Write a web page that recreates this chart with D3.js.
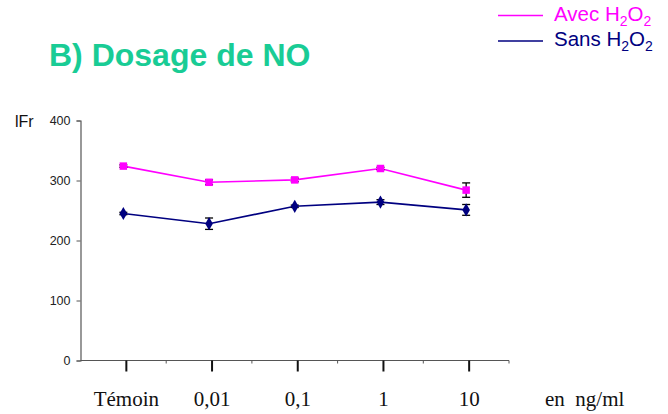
<!DOCTYPE html>
<html><head><meta charset="utf-8">
<script src="https://cdn.jsdelivr.net/npm/d3@7"></script>
<style>body{margin:0;background:#fff}</style>
</head><body>
<script>
const categories = ["Témoin", "0,01", "0,1", "1", "10"];
const avecValues = [324, 297, 301, 320, 284];
const avecErrors = [2, 4, 3, 2, 12];
const sansValues = [245, 228, 257, 264, 251];
const sansErrors = [2, 9.5, 2, 4, 9];
const yTicks = [0, 100, 200, 300, 400];

const W = 668, H = 414;
const svg = d3.select("body").append("svg").attr("width", W).attr("height", H);

const x = d3.scaleBand().domain(categories).range([80.5, 509]);
const y = d3.scaleLinear().domain([0, 400]).range([360.5, 120.5]);

// Title
svg.append("text").attr("x", 49).attr("y", 66)
  .attr("font-family", "Liberation Sans, Arial, sans-serif").attr("font-weight", "bold")
  .attr("font-size", 32).attr("fill", "#19CC95").text("B) Dosage de NO");

// Y axis
const yAxis = d3.axisLeft(y).tickValues(yTicks).tickSize(4).tickPadding(6);
const gy = svg.append("g").attr("transform", "translate(80.5,0)").call(yAxis);
gy.select(".domain").attr("stroke", "#555").attr("stroke-width", 1.2);
gy.selectAll(".tick line").attr("stroke", "#555");
gy.selectAll("text").attr("font-family", "Liberation Sans, Arial, sans-serif").attr("font-size", 12.5).attr("fill", "#222");

svg.append("text").attr("x", 15).attr("y", 127)
  .attr("font-family", "Liberation Sans, Arial, sans-serif").attr("font-size", 16).attr("fill", "#111").text("lFr");

// X axis (minor ticks at boundaries)
const xLine = svg.append("g").attr("transform", `translate(0,${y(0)})`);
xLine.append("line").attr("x1", 80.5).attr("x2", x.range()[1]).attr("stroke", "#555").attr("stroke-width", 1.2);
const bounds = categories.map(c => x(c) + x.bandwidth());
xLine.selectAll(".minor").data(bounds).join("line")
  .attr("x1", d => d).attr("x2", d => d).attr("y1", 0).attr("y2", 3).attr("stroke", "#555");
// Major ticks at category centers
xLine.selectAll(".major").data(categories).join("line")
  .attr("x1", d => x(d) + x.bandwidth() / 2 + 3).attr("x2", d => x(d) + x.bandwidth() / 2 + 3)
  .attr("y1", 0).attr("y2", 11).attr("stroke", "#111").attr("stroke-width", 2);
// Category labels
svg.selectAll(".clab").data(categories).join("text")
  .attr("x", d => x(d) + x.bandwidth() / 2 + 3).attr("y", 406)
  .attr("text-anchor", "middle")
  .attr("font-family", "Liberation Serif, Times New Roman, serif").attr("font-size", 21).attr("fill", "#111")
  .text(d => d);
svg.append("text").attr("x", 545).attr("y", 406)
  .attr("font-family", "Liberation Serif, Times New Roman, serif").attr("font-size", 21).attr("fill", "#111")
  .attr("xml:space", "preserve").text("en  ng/ml");

const cx = d => x(d) + x.bandwidth() / 2;

function series(values, errors, color, shape) {
  const data = categories.map((c, i) => ({c, v: values[i], e: errors[i]}));
  const line = d3.line().x(d => cx(d.c)).y(d => y(d.v));
  svg.append("path").datum(data).attr("d", line).attr("fill", "none").attr("stroke", color).attr("stroke-width", 1.6);
  const eg = svg.append("g").attr("stroke", "#000").attr("stroke-width", 1.3);
  data.forEach(d => {
    eg.append("line").attr("x1", cx(d.c)).attr("x2", cx(d.c)).attr("y1", y(d.v + d.e)).attr("y2", y(d.v - d.e));
    [d.v + d.e, d.v - d.e].forEach(v => eg.append("line").attr("x1", cx(d.c) - 4).attr("x2", cx(d.c) + 4).attr("y1", y(v)).attr("y2", y(v)));
  });
  svg.append("g").selectAll("path").data(data).join("path")
    .attr("transform", d => `translate(${cx(d.c)},${y(d.v)})`)
    .attr("d", d3.symbol().type(shape).size(shape === d3.symbolSquare ? 56 : 50))
    .attr("fill", color);
}
series(avecValues, avecErrors, "#FF00FF", d3.symbolSquare);
series(sansValues, sansErrors, "#000080", d3.symbolDiamond);

// Legend
const legend = [
  {name: "Avec", color: "#FF00FF", y: 15.5},
  {name: "Sans", color: "#000080", y: 41}
];
legend.forEach(l => {
  svg.append("line").attr("x1", 498).attr("x2", 543).attr("y1", l.y).attr("y2", l.y).attr("stroke", l.color).attr("stroke-width", 1.6);
  const t = svg.append("text").attr("x", 554).attr("y", l.y + 5)
    .attr("font-family", "Liberation Sans, Arial, sans-serif").attr("font-size", 20.5).attr("fill", l.color);
  t.append("tspan").text(l.name + " H");
  t.append("tspan").attr("font-size", 14).attr("dy", 5).text("2");
  t.append("tspan").attr("dy", -5).text("O");
  t.append("tspan").attr("font-size", 14).attr("dy", 5).text("2");
});
</script>
</body></html>
